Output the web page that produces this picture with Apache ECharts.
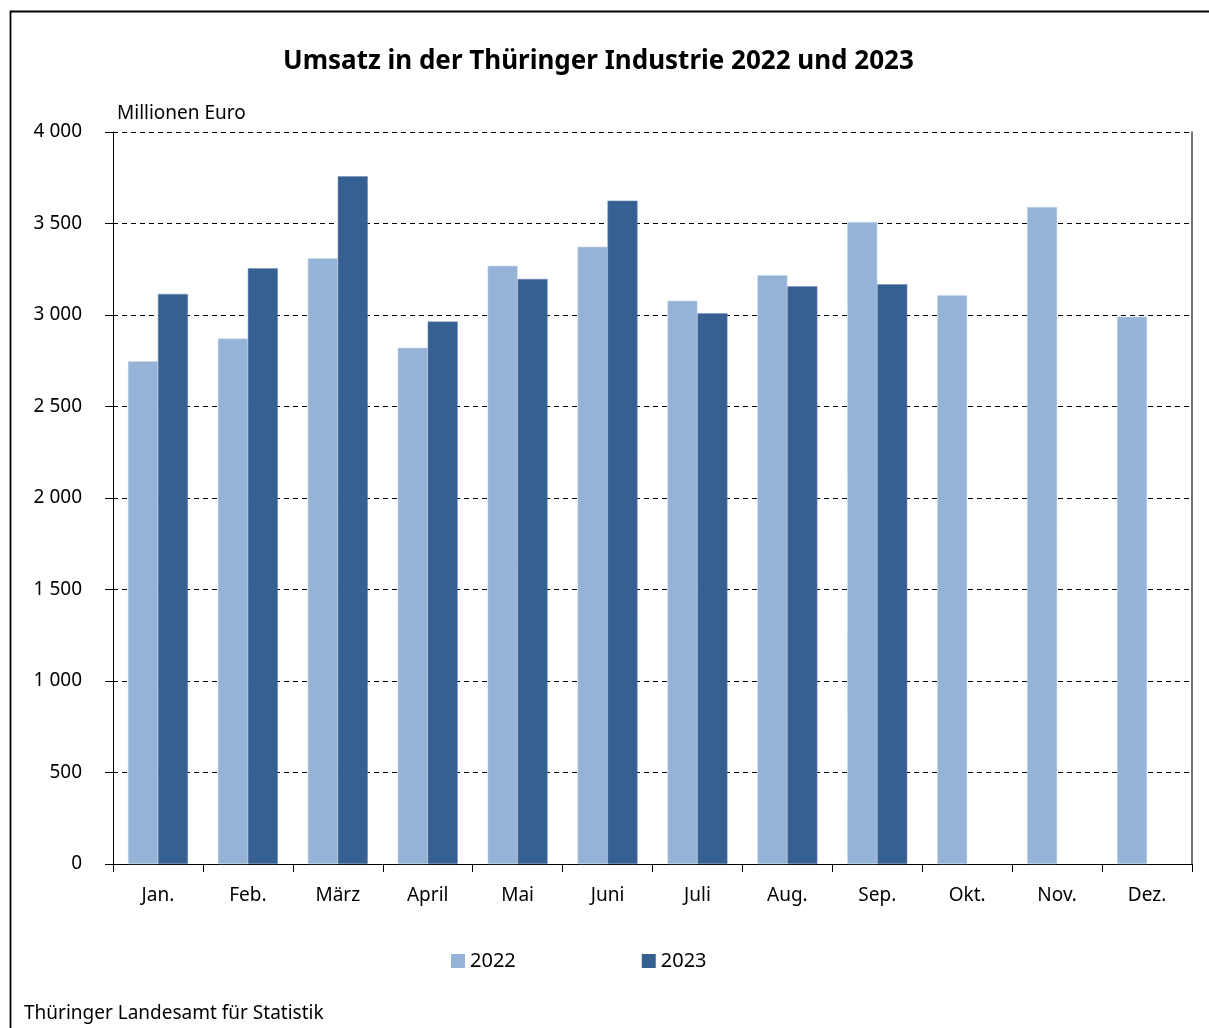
<!DOCTYPE html>
<html><head><meta charset="utf-8">
<script src="https://cdn.jsdelivr.net/npm/echarts@6/dist/echarts.min.js"></script>
<style>html,body{margin:0;padding:0;background:#fff}#c{width:1209px;height:1028px}</style>
</head><body><div id="c"></div>
<script>
const categories = ["Jan.","Feb.","März","April","Mai","Juni","Juli","Aug.","Sep.","Okt.","Nov.","Dez."];
const values2022 = [2747, 2871, 3310, 2821, 3269, 3373, 3078, 3217, 3508, 3108, 3590, 2991];
const values2023 = [3115, 3255, 3758, 2964, 3197, 3625, 3009, 3157, 3168, null, null, null];
const seriesNames = ["2022", "2023"];
const yTicks = [0, 500, 1000, 1500, 2000, 2500, 3000, 3500, 4000];

const FONT = "Noto Sans";
const chart = echarts.init(document.getElementById('c'), null, {renderer: 'canvas'});
const fmt = v => String(v).replace(/\B(?=(\d{3})+(?!\d))/g, ' ');
chart.setOption({
  backgroundColor: '#fff',
  animation: false,
  textStyle: {fontFamily: FONT, color: '#000'},
  graphic: [
    {type: 'rect', shape: {x: 10.5, y: 11.5, width: 1400, height: 1200}, style: {fill: 'none', stroke: '#000', lineWidth: 1.8}, silent: true},
    {type: 'text', left: 117, top: 104, style: {text: 'Millionen Euro', font: '19px "Noto Sans"', fill: '#000'}},
    {type: 'text', left: 24, top: 1004, style: {text: 'Thüringer Landesamt für Statistik', font: '19px "Noto Sans"', fill: '#000'}}
  ],
  title: {
    text: 'Umsatz in der Thüringer Industrie 2022 und 2023',
    left: 278, top: 44,
    textStyle: {fontFamily: FONT, fontWeight: 'bold', fontSize: 26, color: '#000'}
  },
  legend: {
    data: seriesNames,
    bottom: 52, left: 446,
    itemWidth: 14, itemHeight: 14, itemGap: 126,
    icon: 'rect',
    itemStyle: {borderWidth: 0},
    textStyle: {fontFamily: FONT, fontSize: 20, color: '#000'}
  },
  grid: {left: 113, right: 17, top: 132, bottom: 164, containLabel: false},
  xAxis: {
    type: 'category', data: categories,
    axisLine: {lineStyle: {color: '#000', width: 1}},
    axisTick: {show: true, length: 8, lineStyle: {color: '#000'}, alignWithLabel: false},
    axisLabel: {fontFamily: FONT, fontSize: 19, color: '#000', margin: 22}
  },
  yAxis: [{
    type: 'value', min: 0, max: 4000, interval: 500,
    axisLine: {show: true, lineStyle: {color: '#000', width: 1}},
    axisTick: {show: true, length: 8, inside: false, lineStyle: {color: '#000'}},
    axisLabel: {fontFamily: FONT, fontSize: 19, color: '#000', margin: 31, formatter: v => yTicks.includes(v) ? fmt(v) : ''},
    splitLine: {show: true, lineStyle: {color: '#000', type: [5, 4], width: 1}}
  }, {
    type: 'value', min: 0, max: 4000, interval: 500, position: 'right',
    axisLine: {show: true, lineStyle: {color: '#444', width: 1.5}},
    axisTick: {show: false}, axisLabel: {show: false}, splitLine: {show: false}
  }],
  series: [
    {name: seriesNames[0], type: 'bar', data: values2022, barGap: '0%', barCategoryGap: '33.3%',
     itemStyle: {color: '#95B3D7', borderColor: '#c9d9ec', borderWidth: 0.5}},
    {name: seriesNames[1], type: 'bar', data: values2023, barGap: '0%', barCategoryGap: '33.3%',
     itemStyle: {color: '#376092', borderColor: '#6e8bb0', borderWidth: 0.5}}
  ]
});
</script></body></html>
